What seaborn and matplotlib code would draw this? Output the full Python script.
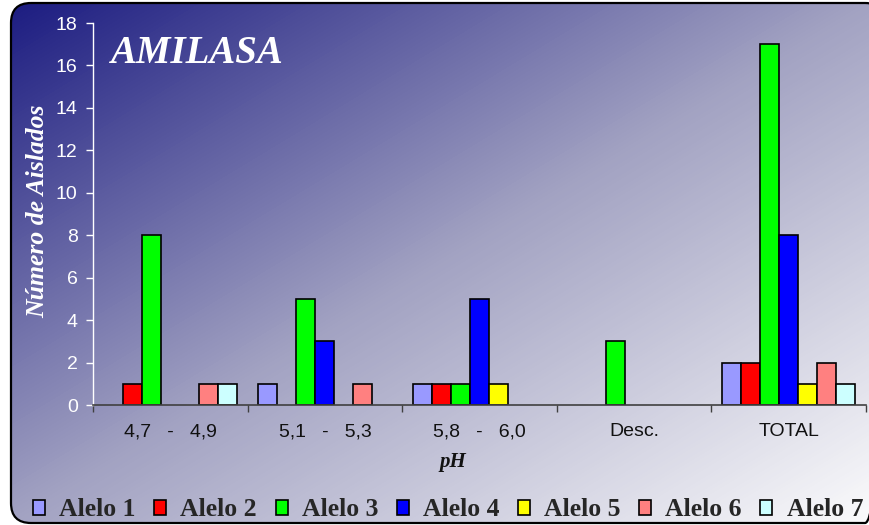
import numpy as np
import pandas as pd
import matplotlib
matplotlib.use("Agg")
import matplotlib.pyplot as plt
import seaborn as sns
from matplotlib.patches import FancyBboxPatch, Patch
from matplotlib.colors import LinearSegmentedColormap

# Isolates per pH range and allele
rangos = ["4,7   -   4,9", "5,1   -   5,3", "5,8   -   6,0", "Desc.", "TOTAL"]
alelos = ["Alelo 1", "Alelo 2", "Alelo 3", "Alelo 4", "Alelo 5", "Alelo 6", "Alelo 7"]
alelo_1 = [0, 1, 1, 0, 2]
alelo_2 = [1, 0, 1, 0, 2]
alelo_3 = [8, 5, 1, 3, 17]
alelo_4 = [0, 3, 5, 0, 8]
alelo_5 = [0, 0, 1, 0, 1]
alelo_6 = [1, 1, 0, 0, 2]
alelo_7 = [1, 0, 0, 0, 1]
colores = ["#9999FF", "#FF0000", "#00FF00", "#0000FF", "#FFFF00", "#FF8080", "#CCFFFF"]
y_ticks = [0, 2, 4, 6, 8, 10, 12, 14, 16, 18]

series = [alelo_1, alelo_2, alelo_3, alelo_4, alelo_5, alelo_6, alelo_7]
df = pd.DataFrame(
    [(r, a, v) for a, vals in zip(alelos, series) for r, v in zip(rangos, vals)],
    columns=["pH", "alelo", "n"],
)

sns.set_style("white")
serif = ["Liberation Serif", "DejaVu Serif"]
sans = ["Liberation Sans", "DejaVu Sans"]

W, H = 869, 525
fig = plt.figure(figsize=(W / 100, H / 100), dpi=100)
fig.patch.set_facecolor("white")

# Diagonal gradient background inside a rounded frame
bg = fig.add_axes([0, 0, 1, 1], zorder=-10)
yy, xx = np.mgrid[0:H, 0:W]
t = (xx / W + yy / H) / 2
cmap = LinearSegmentedColormap.from_list(
    "fondo", [(0.0, "#1a1a80"), (0.5, "#a2a2c2"), (1.0, "#fbfbfc")]
)
im = bg.imshow(t, cmap=cmap, extent=(0, W, H, 0), aspect="auto",
               interpolation="bilinear", vmin=0, vmax=1)
bg.set_xlim(0, W)
bg.set_ylim(H, 0)
bg.axis("off")
marco = FancyBboxPatch((11, 3), 874, 520,
                       boxstyle="round,pad=0,rounding_size=20",
                       facecolor="none", edgecolor="black", linewidth=1.6)
bg.add_patch(marco)
im.set_clip_path(marco)

# Main chart
ax = fig.add_axes([93 / W, 1 - 405 / H, (866 - 93) / W, (405 - 23) / H])
ax.patch.set_alpha(0)
sns.barplot(data=df, x="pH", y="n", hue="alelo", order=rangos, hue_order=alelos,
            palette=colores, width=0.86, gap=0, edgecolor="black", linewidth=1.2,
            saturation=1, legend=False, ax=ax)
for p in ax.patches:
    if p.get_height() == 0:
        p.set_visible(False)

ax.set_ylim(0, 18)
ax.set_xlim(-0.5, len(rangos) - 0.5)
ax.set_yticks(y_ticks)
ax.set_yticklabels([str(v) for v in y_ticks], color="white", family=sans, fontsize=14)
ax.tick_params(axis="y", direction="out", length=5, width=1, color="white", pad=6, left=True)
ax.set_xticks(range(len(rangos)))
ax.set_xticklabels(rangos, color="#111111", family=sans, fontsize=14)
ax.tick_params(axis="x", which="major", length=0, pad=13)
ax.set_xticks(np.arange(-0.5, len(rangos)), minor=True)
ax.tick_params(axis="x", which="minor", direction="out", length=5, width=1,
               color="#404040", bottom=True)
ax.set_xlabel("")
ax.set_ylabel("")
for s in ["top", "right"]:
    ax.spines[s].set_visible(False)
ax.spines["left"].set_color("white")
ax.spines["left"].set_linewidth(1)
ax.spines["bottom"].set_color("#404040")
ax.spines["bottom"].set_linewidth(1.2)

# Texts
fig.text(110 / W, 1 - 63 / H, "AMILASA", color="white", family=serif,
         style="italic", weight="bold", fontsize=28, va="baseline", ha="left")
fig.text(38 / W, 1 - 211 / H, "Número de Aislados", color="white", family=serif,
         style="italic", weight="bold", fontsize=18.5, rotation=90,
         va="center", ha="center")
fig.text(453 / W, 1 - 462 / H, "pH", color="#111111", family=serif,
         style="italic", weight="bold", fontsize=15, va="center", ha="center")

handles = [Patch(facecolor=c, edgecolor="black", linewidth=1.2) for c in colores]
fig.legend(handles, alelos, loc="center left", bbox_to_anchor=(33 / W, 1 - 510 / H),
           ncol=7, frameon=False, borderaxespad=0, borderpad=0,
           handlelength=0.47, handleheight=0.55, handletextpad=0.55,
           columnspacing=0.72,
           prop={"family": serif, "weight": "bold", "size": 18.5})

fig.savefig("out.png", dpi=100, facecolor="white")
